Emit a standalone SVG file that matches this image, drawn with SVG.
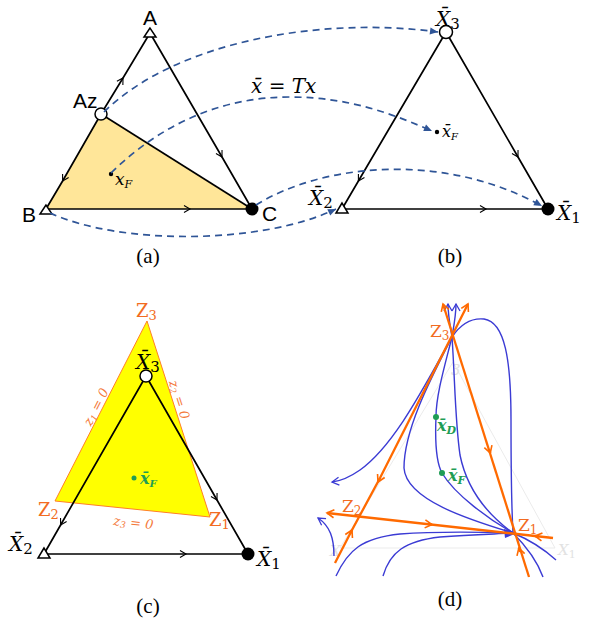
<svg xmlns="http://www.w3.org/2000/svg" width="589" height="622" viewBox="0 0 589 622">
<style>
.e{fill:none;stroke:#000;stroke-width:1.7}
.ek{fill:none;stroke:#000;stroke-width:1.7;marker-mid:url(#ck)}
.d{fill:none;stroke:#2F5597;stroke-width:1.7;stroke-dasharray:7 5;marker-end:url(#da)}
.sans{font-family:"Liberation Sans",Arial,sans-serif;font-size:21px;fill:#000}
.m{font-family:"DejaVu Serif","Liberation Serif",serif;font-style:italic;fill:#000}
.cap{font-family:"Liberation Serif","Times New Roman",serif;font-size:21px;fill:#000}
.or{fill:none;stroke:#FF6A00;stroke-width:2.3}
.bl{fill:none;stroke:#3B3BD4;stroke-width:1.4}
.zo{font-family:"DejaVu Serif","Liberation Serif",serif;fill:#F26B21}
.zi{font-family:"DejaVu Serif","Liberation Serif",serif;font-style:italic;font-size:13px;fill:#F4793B}
.gr{font-family:"DejaVu Serif","Liberation Serif",serif;font-style:italic;font-weight:bold;font-size:16px;fill:#1F9D55}
.faint{font-family:"DejaVu Serif","Liberation Serif",serif;font-style:italic;font-size:15px;fill:#E2E2E2}
</style>
<defs>
<marker id="ck" viewBox="-8 -5 10 10" markerWidth="10" markerHeight="10" refX="0" refY="0" orient="auto" markerUnits="userSpaceOnUse"><path d="M-6,-3.5 L0,0 L-6,3.5" fill="none" stroke="#000" stroke-width="1.1"/></marker>
<marker id="da" viewBox="-9 -5 10 10" markerWidth="10" markerHeight="10" refX="0" refY="0" orient="auto" markerUnits="userSpaceOnUse"><path d="M-8,-3.5 L0,0 L-8,3.5 z" fill="#2F5597"/></marker>
<marker id="co" viewBox="-9 -6 11 12" markerWidth="11" markerHeight="12" refX="0" refY="0" orient="auto" markerUnits="userSpaceOnUse"><path d="M-7,-4 L0,0 L-7,4" fill="none" stroke="#FF6A00" stroke-width="1.6"/></marker>
<marker id="cb" viewBox="-9 -6 11 12" markerWidth="11" markerHeight="12" refX="0" refY="0" orient="auto" markerUnits="userSpaceOnUse"><path d="M-7,-4 L0,0 L-7,4" fill="none" stroke="#3B3BD4" stroke-width="1.3"/></marker>
</defs>

<!-- Panel (a) -->
<g id="panel-a">
<polygon id="region-a" points="101,114 46,209 252,209" fill="#FFE699"/>
<g id="edges-a">
<polyline class="ek" points="101,114 123,78 150,33"/>
<polyline class="ek" points="101,114 62.6,181 46,209"/>
<polyline class="ek" points="46,209 190,209 252,209"/>
<polyline class="ek" points="150,33 222,157 252,209"/>
<line class="e" x1="101" y1="114" x2="252" y2="209"/>
</g>
<g id="node-A"><polygon points="150,28 144,37 156,37" fill="#fff" stroke="#000" stroke-width="1.5"/><text class="sans" x="150" y="25" text-anchor="middle">A</text></g>
<g id="node-Az"><circle cx="101" cy="114" r="6" fill="#fff" stroke="#000" stroke-width="1.5"/><text class="sans" x="73" y="108">Az</text></g>
<g id="node-B"><polygon points="46,205 40,214 52,214" fill="#fff" stroke="#000" stroke-width="1.5"/><text class="sans" x="22" y="222">B</text></g>
<g id="node-C"><circle cx="252" cy="209" r="6.5" fill="#000"/><text class="sans" x="262" y="221">C</text></g>
<g id="node-xF"><circle cx="111" cy="174" r="2.2" fill="#000"/><text class="m" x="115" y="185" font-size="17">x<tspan font-size="11" dy="3">F</tspan></text></g>
<text class="cap" x="148" y="263" text-anchor="middle">(a)</text>
</g>

<!-- Panel (b) -->
<g id="panel-b">
<g id="edges-b">
<polyline class="ek" points="446,32 358.4,181 342,209"/>
<polyline class="ek" points="446,32 518,157 548,209"/>
<polyline class="ek" points="342,209 486,209 548,209"/>
</g>
<g id="node-X3b"><circle cx="446" cy="32" r="6.5" fill="#fff" stroke="#000" stroke-width="1.5"/><text class="m" x="436" y="26" font-size="20">X&#x0304;<tspan font-style="normal" font-size="15" dy="3">3</tspan></text></g>
<g id="node-X2b"><polygon points="342,203 336,213 348,213" fill="#fff" stroke="#000" stroke-width="1.5"/><text class="m" x="309" y="205" font-size="20">X&#x0304;<tspan font-style="normal" font-size="15" dy="3">2</tspan></text></g>
<g id="node-X1b"><circle cx="548" cy="209" r="6.5" fill="#000"/><text class="m" x="557" y="220" font-size="20">X&#x0304;<tspan font-style="normal" font-size="15" dy="3">1</tspan></text></g>
<g id="node-xFb"><circle cx="437" cy="132" r="2.2" fill="#000"/><text class="m" x="442" y="137" font-size="16">x&#x0304;<tspan font-size="10" dy="3">F</tspan></text></g>
<text class="cap" x="450" y="263" text-anchor="middle">(b)</text>
</g>

<!-- Mapping connectors -->
<g id="connectors-ab">
<path class="d" d="M104,112 C 175,42 320,16 438,32"/>
<path class="d" d="M111,173 C 160,125 220,97 290,97 C 350,97 395,115 432,131"/>
<path class="d" d="M256,205 C 320,165 440,150 542,206"/>
<path class="d" d="M50,213 C 120,245 260,245 336,209"/>
<text class="m" x="251" y="93" font-size="20">x&#x0304; = Tx</text>
</g>

<!-- Panel (c) -->
<g id="panel-c">
<polygon id="region-c" points="147,321 55,501 210,517" fill="#FFFF00" stroke="#FF7F27" stroke-width="1"/>
<g id="edges-c">
<polyline class="ek" points="146,376 60.6,525 44,554"/>
<polyline class="ek" points="146,376 217,500 248,554"/>
<polyline class="ek" points="44,554 186,554 248,554"/>
</g>
<text class="zo" x="136" y="317" font-size="18">Z<tspan font-size="13" dy="3">3</tspan></text>
<text class="zo" x="38" y="516" font-size="18">Z<tspan font-size="13" dy="3">2</tspan></text>
<text class="zo" x="209" y="526" font-size="18">Z<tspan font-size="13" dy="3">1</tspan></text>
<text class="zi" x="100" y="409" text-anchor="middle" transform="rotate(-63 100 409)">z<tspan font-size="9" dy="2">1</tspan><tspan dy="-2"> = 0</tspan></text>
<text class="zi" x="175" y="401" text-anchor="middle" transform="rotate(72 175 401)">z<tspan font-size="9" dy="2">2</tspan><tspan dy="-2"> = 0</tspan></text>
<text class="zi" x="133" y="527" text-anchor="middle" transform="rotate(6 133 527)">z<tspan font-size="9" dy="2">3</tspan><tspan dy="-2"> = 0</tspan></text>
<g id="node-X3c"><circle cx="146" cy="376" r="6" fill="#fff" stroke="#000" stroke-width="1.5"/><text class="m" x="136" y="369" font-size="20">X&#x0304;<tspan font-style="normal" font-size="15" dy="3">3</tspan></text></g>
<g id="node-X2c"><polygon points="44,548 38,558 50,558" fill="#fff" stroke="#000" stroke-width="1.5"/><text class="m" x="9" y="551" font-size="20">X&#x0304;<tspan font-style="normal" font-size="15" dy="3">2</tspan></text></g>
<g id="node-X1c"><circle cx="248" cy="554" r="6.5" fill="#000"/><text class="m" x="257" y="566" font-size="20">X&#x0304;<tspan font-style="normal" font-size="15" dy="3">1</tspan></text></g>
<g id="node-xFc"><circle cx="134" cy="478" r="2.5" fill="#1F9D55"/><text class="gr" x="140" y="484" font-size="15">x&#x0304;<tspan font-size="10" dy="3">F</tspan></text></g>
<text class="cap" x="148" y="613" text-anchor="middle">(c)</text>
</g>

<!-- Panel (d) -->
<g id="panel-d">
<g id="faint-simplex">
<polygon points="453,362 340,548 555,548" fill="none" stroke="#EBEBEB" stroke-width="1"/>
<text class="faint" x="558" y="555">X<tspan font-style="normal" font-size="11" dy="3">1</tspan></text>
<text class="faint" x="330" y="556">X</text>
<text class="faint" x="451" y="375" font-style="normal" font-size="12">3</text>
</g>
<g id="trajectories">
<path class="bl" d="M452,337 C 450,325 448,315 448,304" marker-end="url(#cb)"/>
<path class="bl" d="M452,337 C 454,325 456,315 456,304" marker-end="url(#cb)"/>
<path class="bl" d="M452,337 C 462,322 474,318 484,319 C 505,322 511,360 511,420 C 511,480 512,515 513,533"/>
<path class="bl" d="M452,337 C 445,365 436,395 436,417 C 435,440 436,462 442,473 C 455,495 490,520 513,533"/>
<path class="bl" d="M452,337 C 455,380 455,420 460,455 C 468,495 495,520 513,533"/>
<path class="bl" d="M452,337 C 430,380 404,430 404,468 C 406,500 470,520 513,533"/>
<path class="bl" d="M452,337 C 425,385 395,445 360,470 C 350,477 341,481 332,482" marker-end="url(#cb)"/>
<path class="bl" d="M334,556 C 334,538 330,526 318,518" marker-end="url(#cb)"/>
<path class="bl" d="M336,576 C 348,550 362,538 400,534 C 440,531 480,532 513,533"/>
<path class="bl" d="M383,576 C 390,552 405,541 440,537 C 470,535 495,534 513,533"/>
<path class="bl" d="M513,533 C 525,545 536,558 543,577"/>
<path class="bl" d="M513,533 C 530,540 545,550 556,560"/>
<path d="M504,529 L517,533 L505,538 z" fill="#3B3BD4"/>
</g>
<g id="orange-lines">
<polyline class="or" points="335,563 352,530 380,478 468,304" style="marker-end:url(#co)"/>
<line x1="380" y1="478" x2="378" y2="482" class="or" style="marker-end:url(#co)"/>
<line x1="350" y1="534" x2="352" y2="530" class="or" style="marker-end:url(#co)"/>
<polyline class="or" points="529,577 443,304" style="marker-end:url(#co)"/>
<line x1="489" y1="449" x2="490.3" y2="453" class="or" style="marker-end:url(#co)"/>
<line x1="520" y1="552" x2="518.8" y2="548" class="or" style="marker-end:url(#co)"/>
<polyline class="or" points="553,538 327,513" style="marker-end:url(#co)"/>
<line x1="428" y1="524.2" x2="432" y2="524.6" class="or" style="marker-end:url(#co)"/>
<line x1="539" y1="536.5" x2="535" y2="536" class="or" style="marker-end:url(#co)"/>
</g>
<g id="node-Z3d"><text class="zo" x="430" y="337" font-size="17">Z<tspan font-size="12" dy="3">3</tspan></text></g>
<g id="node-Z2d"><text class="zo" x="342" y="512" font-size="17">Z<tspan font-size="12" dy="3">2</tspan></text></g>
<g id="node-Z1d"><text class="zo" x="518" y="531" font-size="17">Z<tspan font-size="12" dy="3">1</tspan></text></g>
<g id="node-xD"><circle cx="436" cy="417" r="3" fill="#1F9D55"/><text class="gr" x="437" y="431">x&#x0304;<tspan font-size="11" dy="3">D</tspan></text></g>
<g id="node-xFd"><circle cx="442" cy="473" r="3" fill="#1F9D55"/><text class="gr" x="448" y="481">x&#x0304;<tspan font-size="11" dy="3">F</tspan></text></g>
<text class="cap" x="450" y="606" text-anchor="middle">(d)</text>
</g>
</svg>
